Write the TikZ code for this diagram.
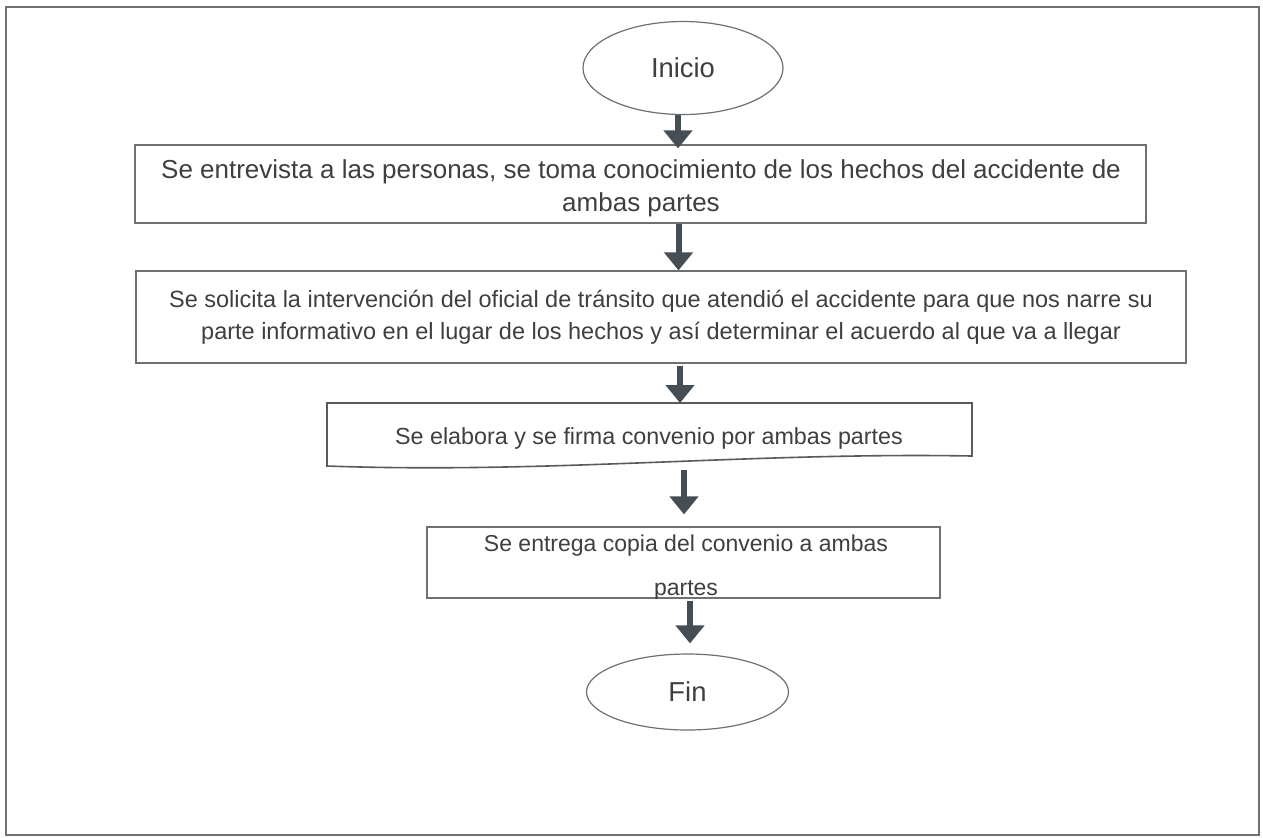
\documentclass[tikz,border=0pt]{standalone}
\usepackage{fontspec}
\setmainfont{Liberation Sans}
\usetikzlibrary{shapes.geometric,arrows.meta}
\definecolor{txtc}{HTML}{3F3F3F}
\definecolor{linec}{HTML}{707070}
\definecolor{arrc}{HTML}{454D55}
\tikzset{
  frame/.style={draw=linec, line width=0.7pt},
  term/.style={ellipse, draw=linec, line width=0.6pt, text=txtc, font=\fontsize{13.7pt}{16pt}\selectfont, inner sep=0pt},
  procbox/.style={rectangle, draw=linec, line width=0.6pt, inner sep=0pt},
  boxtext/.style={text=txtc, align=center, inner sep=0pt},
  docshape/.style={draw=linec!80!black, line width=0.8pt},
  flowarrow/.style={draw=arrc, line width=3pt, -{Triangle[width=14pt,length=9pt]}},
}
\begin{document}
\begin{tikzpicture}[x=0.5pt,y=-0.5pt]
\useasboundingbox[fill=white] (0,0) rectangle (1263,837);
\draw[frame] (6,7) rectangle (1259,835);

\node[term, minimum width=100pt, minimum height=46.5pt] (inicio) at (683,68) {Inicio};

\node[procbox, minimum width=505.5pt, minimum height=39pt] (b1) at (640.5,184) {};
\node[boxtext, font=\fontsize{13pt}{16.5pt}\selectfont] (b1t) at (641,188)
  {Se entrevista a las personas, se toma conocimiento de los hechos del accidente de\\ambas partes};

\node[procbox, minimum width=525pt, minimum height=46pt] (b2) at (661,317) {};
\node[boxtext, font=\fontsize{11.75pt}{16pt}\selectfont] (b2t) at (661,317)
  {Se solicita la intervención del oficial de tránsito que atendió el accidente para que nos narre su\\parte informativo en el lugar de los hechos y así determinar el acuerdo al que va a llegar};

% document shape
\coordinate (dnw) at (327,403);
\coordinate (dne) at (972,403);
\coordinate (dse) at (972,456);
\coordinate (dsw) at (327,466);
\draw[docshape] (dnw) -- (dne) -- (dse) .. controls (750,452) and (550,474) .. (dsw) -- cycle;
\node[boxtext, font=\fontsize{11.65pt}{14pt}\selectfont] (b3) at (649,438)
  {Se elabora y se firma convenio por ambas partes};

\node[procbox, minimum width=256.5pt, minimum height=35.5pt] (b4) at (683.5,562.5) {};
\begin{scope}
\clip (b4.south west) rectangle (b4.north east);
\node[boxtext, font=\fontsize{11.5pt}{22pt}\selectfont] (b4t) at (686,568)
  {Se entrega copia del convenio a ambas\\partes};
\end{scope}

\node[term, minimum width=101pt, minimum height=38pt] (fin) at (687.5,692) {Fin};

% arrows
\coordinate (x1) at (678,0);
\coordinate (x2) at (678.5,0);
\coordinate (x3) at (680,0);
\coordinate (x4) at (684,0);
\coordinate (x5) at (690,0);
\draw[flowarrow] (x1 |- inicio.south) -- ([yshift=-2pt]x1 |- b1.north);
\draw[flowarrow] (x2 |- b1.south) -- (x2 |- b2.north);
\draw[flowarrow] ([yshift=-1pt]x3 |- b2.south) -- (x3 |- dnw);
\draw[flowarrow] ([yshift=-7pt]x4 |- dse) -- ([yshift=6pt]x4 |- b4.north);
\draw[flowarrow] ([yshift=-1pt]x5 |- b4.south) -- ([yshift=5pt]x5 |- fin.north);
\end{tikzpicture}
\end{document}
